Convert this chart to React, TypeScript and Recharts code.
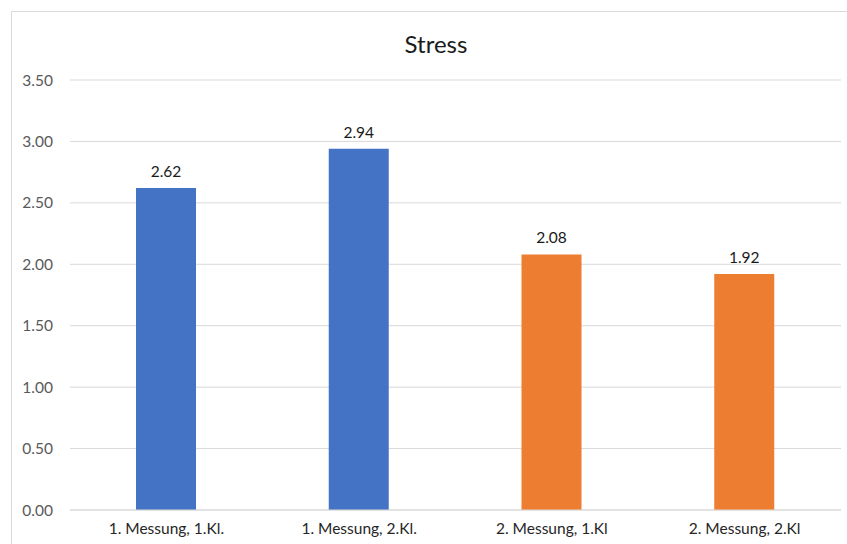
import { Bar, BarChart, CartesianGrid, Cell, LabelList, XAxis, YAxis } from 'recharts';

const categories = ['1. Messung, 1.Kl.', '1. Messung, 2.Kl.', '2. Messung, 1.Kl', '2. Messung, 2.Kl'];
const stressValues = [2.62, 2.94, 2.08, 1.92];
const barColors = ['#4472C4', '#4472C4', '#ED7D31', '#ED7D31'];
const yTicks = [0, 0.5, 1, 1.5, 2, 2.5, 3, 3.5];

const data = categories.map((name, i) => ({ name, value: stressValues[i] }));

const font = 'Lato, "Open Sans", sans-serif';

export default function App() {
  return (
    <div
      style={{
        position: 'fixed',
        left: 0,
        top: 0,
        width: 847,
        height: 544,
        overflow: 'hidden',
        background: '#fff',
        fontFamily: font,
      }}
    >
      {/* chart border, runs off the right and bottom edge */}
      <div
        style={{
          position: 'absolute',
          left: 11,
          top: 11,
          width: 870,
          height: 570,
          border: '1px solid #d9d9d9',
          boxSizing: 'border-box',
        }}
      />
      <div
        style={{
          position: 'absolute',
          left: 336,
          width: 200,
          top: 29,
          textAlign: 'center',
          fontSize: 24,
          color: '#1a1a1a',
          lineHeight: '30px',
        }}
      >
        Stress
      </div>
      <div style={{ position: 'absolute', left: 8, top: 8 }}>
        <BarChart width={839} height={536} data={data} margin={{ top: 72, right: 6, bottom: 4, left: 12 }}>
          <CartesianGrid horizontal vertical={false} stroke="#d9d9d9" />
          <XAxis
            dataKey="name"
            axisLine={{ stroke: '#d9d9d9' }}
            tickLine={false}
            tickSize={0}
            tickMargin={13}
            height={30}
            tick={{ fill: '#262626', fontSize: 15.5, fontFamily: font }}
          />
          <YAxis
            domain={[0, 3.5]}
            ticks={yTicks}
            tickFormatter={(v: number) => v.toFixed(2)}
            axisLine={false}
            tickLine={false}
            tickSize={0}
            tickMargin={17}
            width={50}
            tick={{ fill: '#595959', fontSize: 15.5, fontFamily: font }}
          />
          <Bar dataKey="value" barSize={60} isAnimationActive={false}>
            {data.map((entry, i) => (
              <Cell key={entry.name} fill={barColors[i]} />
            ))}
            <LabelList
              dataKey="value"
              position="top"
              offset={11}
              formatter={(v: number) => v.toFixed(2)}
              style={{ fill: '#1a1a1a', fontSize: 15.5, fontFamily: font }}
            />
          </Bar>
        </BarChart>
      </div>
    </div>
  );
}
